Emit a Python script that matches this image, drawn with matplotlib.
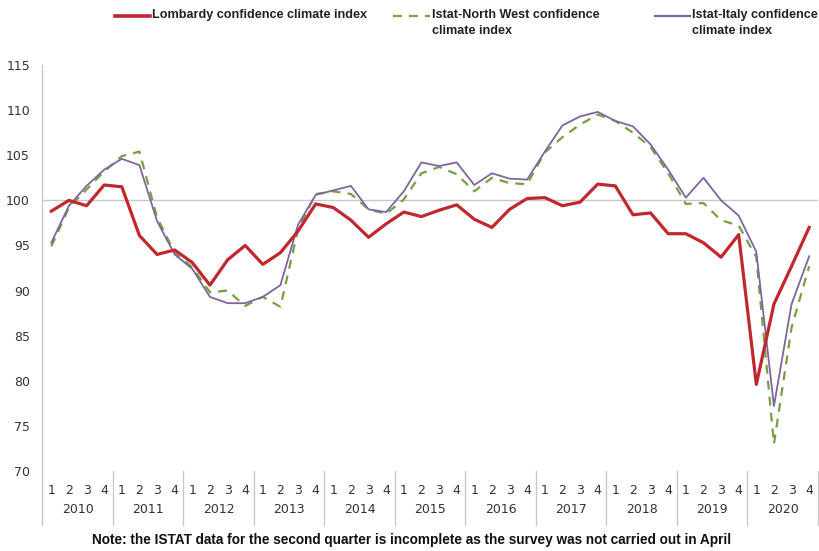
import matplotlib
matplotlib.use("Agg")
import matplotlib.pyplot as plt
from matplotlib.lines import Line2D

years = [str(y) for y in range(2010, 2021)]
quarters = ["1", "2", "3", "4"]

lombardy = [98.8, 100.0, 99.4, 101.7, 101.5, 96.1, 94.0, 94.5, 93.1, 90.6, 93.4, 95.0,
            92.9, 94.2, 96.6, 99.6, 99.2, 97.8, 95.9, 97.4, 98.7, 98.2, 98.9, 99.5,
            97.9, 97.0, 99.0, 100.2, 100.3, 99.4, 99.8, 101.8, 101.6, 98.4, 98.6, 96.3,
            96.3, 95.3, 93.7, 96.2, 79.6, 88.5, 92.7, 97.0]
north_west = [94.9, 99.2, 101.2, 103.2, 104.9, 105.4, 98.1, 94.2, 92.6, 89.8, 90.0, 88.3,
              89.3, 88.2, 96.8, 100.7, 101.0, 100.7, 99.0, 98.5, 100.1, 103.0, 103.7, 102.9,
              101.0, 102.5, 101.9, 101.8, 105.3, 107.0, 108.4, 109.5, 108.8, 107.5, 105.9, 103.0,
              99.6, 99.7, 97.8, 97.2, 93.7, 73.0, 85.9, 92.7]
italy = [95.3, 99.4, 101.6, 103.4, 104.6, 103.9, 97.7, 94.0, 92.4, 89.3, 88.6, 88.6,
         89.3, 90.6, 97.3, 100.6, 101.1, 101.6, 99.0, 98.7, 101.0, 104.2, 103.8, 104.2,
         101.7, 103.0, 102.4, 102.3, 105.4, 108.3, 109.3, 109.8, 108.8, 108.2, 106.2, 103.4,
         100.3, 102.5, 100.0, 98.3, 94.3, 77.2, 88.5, 93.8]

labels = ["Lombardy confidence climate index",
          "Istat-North West confidence\nclimate index",
          "Istat-Italy confidence\nclimate index"]

RED = "#c0282d"
GREEN = "#77a043"
PURPLE = "#8064a2"
GRID = "#c8c8c8"
TXT = "#333333"
SANS = ["Liberation Sans", "DejaVu Sans"]

fig = plt.figure(figsize=(8.2, 5.51), dpi=100)
ax = fig.add_axes([42.5 / 820, 1 - 471 / 551, (818 - 42.5) / 820, (471 - 65) / 551])

x = list(range(len(lombardy)))
ax.axhline(100, color=GRID, lw=1.0, zorder=1)
ax.plot(x, north_west, color=GREEN, lw=1.6, dashes=(4, 3.2), zorder=2)
ax.plot(x, italy, color=PURPLE, lw=1.3, zorder=3)
ax.plot(x, lombardy, color=RED, lw=2.3, zorder=4)

ax.set_xlim(-0.5, len(x) - 0.5)
ax.set_ylim(70, 115)
ax.set_yticks(range(70, 116, 5))
ax.tick_params(axis="y", length=0, pad=9, labelsize=9, labelcolor=TXT)
ax.set_xticks(x)
ax.set_xticklabels(quarters * len(years))
ax.tick_params(axis="x", length=0, pad=9, labelsize=9, labelcolor=TXT)
for s in ax.spines.values():
    s.set_visible(False)

trans = ax.get_xaxis_transform()
# left axis line running down through the category labels
ax.plot([-0.5, -0.5], [1, -0.133], transform=trans, color=GRID, lw=1.0, clip_on=False)
for i, yr in enumerate(years):
    edge = 4 * i + 3.5
    ax.plot([edge, edge], [0, -0.133], transform=trans, color=GRID, lw=1.0, clip_on=False)
    ax.text(4 * i + 1.5, -0.096, yr, transform=trans, ha="center", va="center",
            fontsize=9, color=TXT)

# legend along the top
swatches = [(115, 150, dict(color=RED, lw=2.6)),
            (393, 430, dict(color=GREEN, lw=1.6, dashes=(4, 3.2))),
            (655, 690, dict(color=PURPLE, lw=1.6))]
for (x0, x1, style), lab in zip(swatches, labels):
    y = 1 - 16 / 551
    fig.add_artist(Line2D([x0 / 820, x1 / 820], [y, y], **style))
    fig.text((x1 + 2) / 820, 1 - 9 / 551, lab, ha="left", va="top", fontsize=9.1,
             family=SANS, fontweight="bold", color="#222222", linespacing=1.4)

fig.text(412 / 820, 1 - 540 / 551,
         "Note: the ISTAT data for the second quarter is incomplete as the survey was not carried out in April",
         ha="center", va="center", fontsize=9.8, family=SANS, fontweight="bold", color="#111111")

fig.savefig("out.png", dpi=100)
